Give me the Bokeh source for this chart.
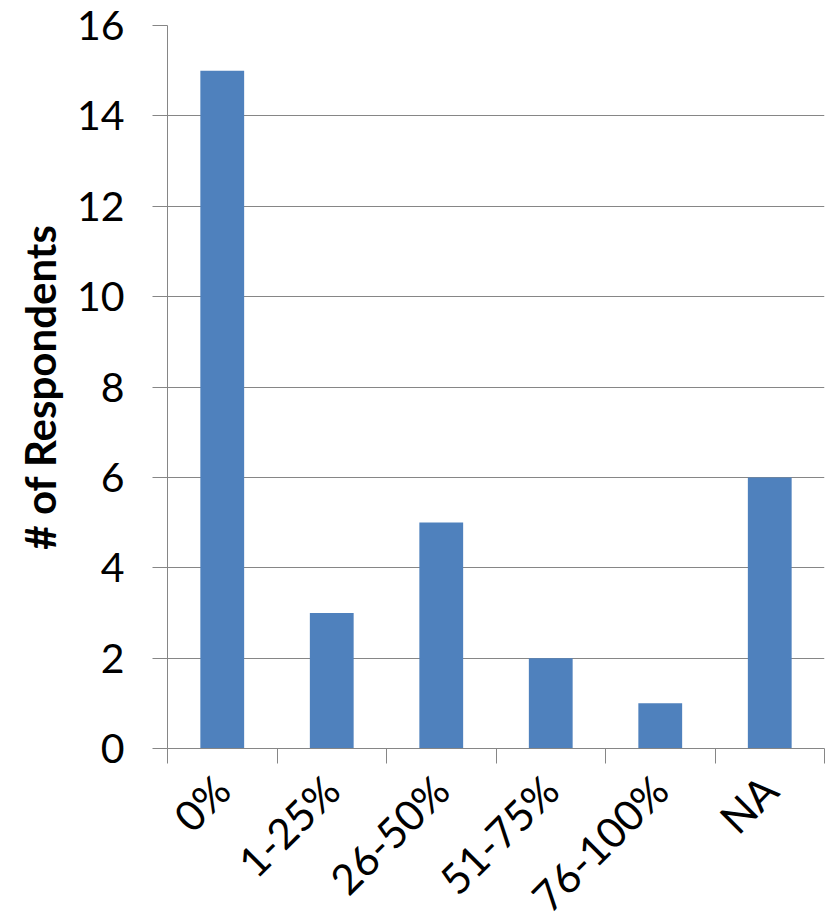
import math
from bokeh.plotting import figure
from bokeh.models import Range1d, FixedTicker, CustomJSTickFormatter, ColumnDataSource
from bokeh.embed import file_html
from bokeh.resources import INLINE

categories = ["0%", "1-25%", "26-50%", "51-75%", "76-100%", "NA"]
respondents = [15, 3, 5, 2, 1, 6]
y_ticks = [0, 2, 4, 6, 8, 10, 12, 14, 16]

n = len(categories)
centers = [i + 0.5 for i in range(n)]
boundaries = list(range(n + 1))

source = ColumnDataSource(dict(x=centers, top=respondents, cat=categories))

p = figure(frame_width=657, frame_height=723, output_backend="svg", toolbar_location=None,
           x_range=Range1d(0, n), y_range=Range1d(0, 16),
           min_border_left=167, min_border_right=9, min_border_top=25, min_border_bottom=150)
p.outline_line_color = None
p.background_fill_color = "white"
p.border_fill_color = "white"

p.vbar(x="x", top="top", width=0.4, bottom=0, source=source,
       fill_color="#4F81BD", line_color=None)

FONT = "Lato"
GRAY = "#868686"

# y axis
p.yaxis.ticker = FixedTicker(ticks=y_ticks)
p.yaxis.axis_line_color = GRAY
p.yaxis.major_tick_line_color = GRAY
p.yaxis.major_tick_out = 15
p.yaxis.major_tick_in = 0
p.yaxis.minor_tick_line_color = None
p.yaxis.major_label_text_font = FONT
p.yaxis.major_label_text_font_size = "41px"
p.yaxis.major_label_text_color = "black"
p.yaxis.major_label_standoff = 28
p.yaxis.axis_label = "# of Respondents"
p.yaxis.axis_label_text_font = FONT
p.yaxis.axis_label_text_font_style = "bold"
p.yaxis.axis_label_text_font_size = "42px"
p.yaxis.axis_label_text_color = "black"
p.yaxis.axis_label_standoff = 9

p.ygrid.ticker = FixedTicker(ticks=y_ticks)
p.ygrid.grid_line_color = GRAY
p.ygrid.grid_line_width = 1
p.xgrid.grid_line_color = None

# x axis: labels at centres, tick marks at boundaries
p.xaxis.ticker = FixedTicker(ticks=centers, minor_ticks=boundaries)
p.xaxis.formatter = CustomJSTickFormatter(args=dict(cats=categories),
                                          code="return cats[Math.round(tick - 0.5)];")
p.xaxis.axis_line_color = GRAY
p.xaxis.major_tick_line_color = None
p.xaxis.minor_tick_line_color = GRAY
p.xaxis.minor_tick_out = 15
p.xaxis.minor_tick_in = 0
p.xaxis.major_label_orientation = math.pi / 4
p.xaxis.major_label_text_font = FONT
p.xaxis.major_label_text_font_size = "42px"
p.xaxis.major_label_text_color = "black"
p.xaxis.major_label_standoff = 19

open("out.html", "w").write(file_html(p, INLINE))
